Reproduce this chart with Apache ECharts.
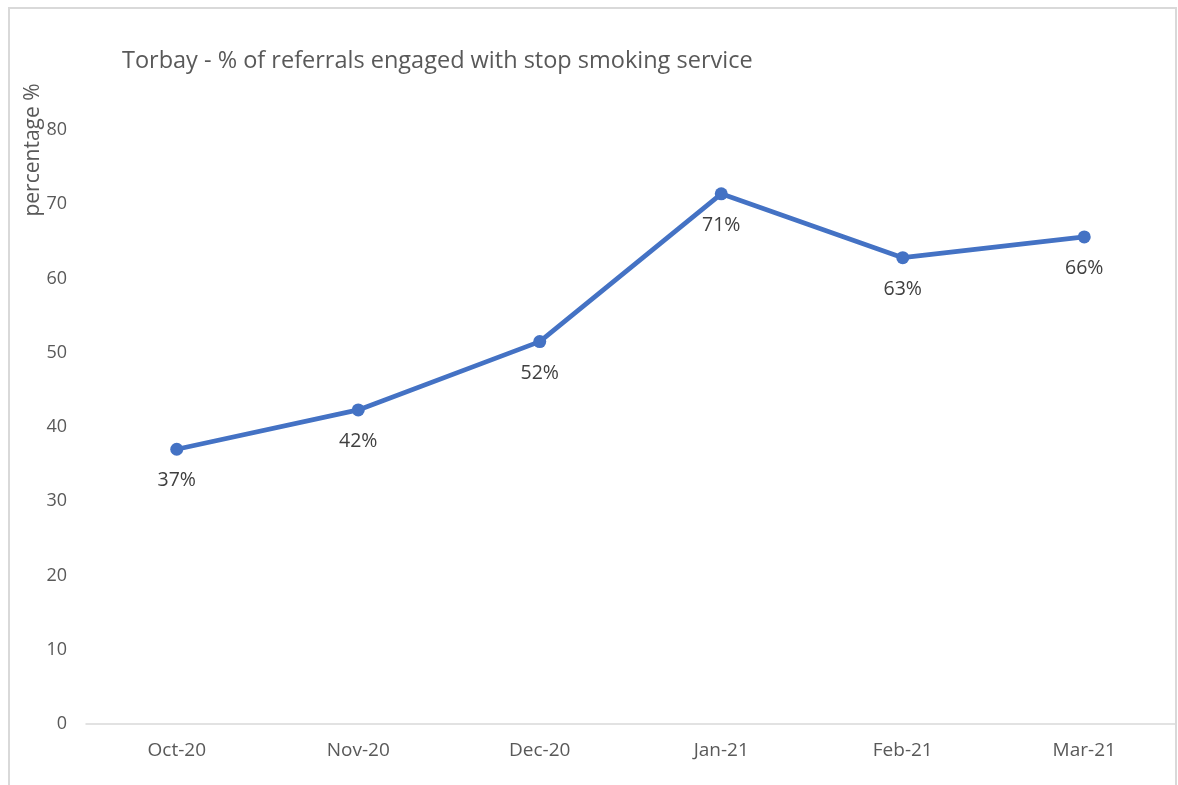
<!DOCTYPE html>
<html>
<head>
<meta charset="utf-8">
<script src="https://cdn.jsdelivr.net/npm/echarts@6/dist/echarts.min.js"></script>
<style>
html,body{margin:0;padding:0;background:#fff;}
#c{width:1178px;height:785px;}
</style>
</head>
<body>
<div id="c"></div>
<script>
const categories = ['Oct-20', 'Nov-20', 'Dec-20', 'Jan-21', 'Feb-21', 'Mar-21'];
const values = [37.0, 42.3, 51.5, 71.4, 62.8, 65.6];
const yTicks = [0, 10, 20, 30, 40, 50, 60, 70, 80];
const titleText = 'Torbay - % of referrals engaged with stop smoking service';
const yAxisName = 'percentage %';

const FONT = 'Open Sans';
const chart = echarts.init(document.getElementById('c'));
chart.setOption({
  backgroundColor: '#fff',
  animation: false,
  title: {
    text: titleText,
    left: 117,
    top: 44,
    textStyle: { fontFamily: FONT, fontSize: 23.5, fontWeight: 'normal', color: '#595959' }
  },
  graphic: [
    {
      type: 'rect',
      shape: { x: 9, y: 8, width: 1167, height: 800 },
      style: { fill: 'none', stroke: '#d9d9d9', lineWidth: 2 },
      silent: true
    },
    {
      type: 'text',
      x: 33, y: 150,
      rotation: Math.PI / 2,
      style: {
        text: yAxisName,
        fontFamily: FONT, fontSize: 21, fill: '#595959',
        textAlign: 'center', textVerticalAlign: 'middle'
      }
    }
  ],
  grid: { left: 86, right: 3, top: 130, bottom: 61, containLabel: false },
  xAxis: {
    type: 'category',
    data: categories,
    boundaryGap: true,
    axisLine: { lineStyle: { color: '#d9d9d9', width: 1.5 } },
    axisTick: { show: false },
    axisLabel: { fontFamily: FONT, fontSize: 19, color: '#595959', margin: 17 }
  },
  yAxis: {
    type: 'value',
    min: yTicks[0],
    max: yTicks[yTicks.length - 1],
    interval: 10,
    axisLine: { show: false },
    axisTick: { show: false },
    splitLine: { show: false },
    axisLabel: { fontFamily: FONT, fontSize: 18, color: '#595959', margin: 19 }
  },
  series: [{
    type: 'line',
    data: values,
    symbol: 'circle',
    symbolSize: 13,
    lineStyle: { color: '#4472C4', width: 4.75 },
    itemStyle: { color: '#4472C4' },
    label: {
      show: true,
      position: 'bottom',
      distance: 15,
      fontFamily: FONT, fontSize: 19.5, color: '#404040',
      formatter: p => Math.round(p.value) + '%'
    }
  }]
});
</script>
</body>
</html>
